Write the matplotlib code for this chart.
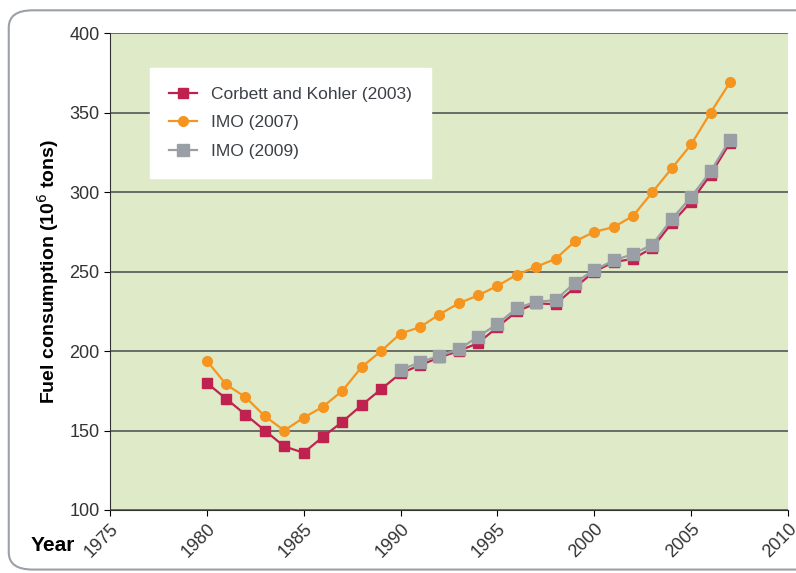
import matplotlib
matplotlib.use("Agg")
import matplotlib.pyplot as plt
from matplotlib.patches import FancyBboxPatch

years_ck = list(range(1980, 2008))
corbett = [180, 170, 160, 150, 140, 136, 146, 155.5, 166, 176,
           186, 191, 196, 200, 205, 215, 225, 230, 229.5, 240,
           250, 256, 258, 265, 280.5, 294, 311, 331]

years_imo07 = list(range(1980, 2008))
imo2007 = [194, 179, 171, 159, 150, 158, 165, 175, 190, 200,
           211, 215, 223, 230, 235, 241, 248, 253, 258, 269,
           275, 278, 285, 300, 315, 330, 350, 369]

years_imo09 = list(range(1990, 2008))
imo2009 = [188, 193, 197, 201, 209, 217, 227, 231, 232, 243,
           251, 257, 261, 267, 283, 297, 313, 333]

xticks = list(range(1975, 2011, 5))
yticks = list(range(100, 401, 50))

plt.rcParams['font.family'] = ['Liberation Sans', 'DejaVu Sans']

fig = plt.figure(figsize=(7.96, 5.73), dpi=100)
# rounded frame, runs off the right edge like the source
frame = FancyBboxPatch((0.011, 0.006), 1.02, 0.976, boxstyle="round,pad=0,rounding_size=0.03",
                       transform=fig.transFigure, facecolor='white', edgecolor='#9aa0a6',
                       linewidth=1.5, zorder=-10)
fig.patches.append(frame)

ax = fig.add_axes([0.138, 0.110, 0.852, 0.832])
ax.set_facecolor('#deeac8')

ax.plot(years_ck, corbett, color='#c0224f', marker='s', markersize=7, linewidth=1.6,
        label='Corbett and Kohler (2003)', zorder=3)
ax.plot(years_imo07, imo2007, color='#f5951f', marker='o', markersize=7, linewidth=1.6,
        label='IMO (2007)', zorder=3)
ax.plot(years_imo09, imo2009, color='#9a9fa5', marker='s', markersize=8, linewidth=1.6,
        label='IMO (2009)', zorder=4)

ax.set_xlim(1975, 2010)
ax.set_ylim(100, 400)
ax.set_xticks(xticks)
ax.set_yticks(yticks)
ax.set_xticklabels([str(x) for x in xticks], rotation=45, ha='right', rotation_mode='anchor',
                   fontsize=13, color='#333333')
ax.tick_params(axis='y', labelsize=13, labelcolor='#333333', length=4)
ax.tick_params(axis='x', length=4)
ax.grid(axis='y', color='#4a4a4a', linewidth=1.1)
ax.set_axisbelow(True)
for s in ['top', 'right']:
    ax.spines[s].set_visible(False)
ax.spines['left'].set_color('#333333')
ax.spines['bottom'].set_color('#333333')

ax.set_ylabel('Fuel consumption (10$^6$ tons)', fontsize=14, fontweight='bold', labelpad=6)
fig.text(0.038, 0.032, 'Year', fontsize=15, fontweight='bold', ha='left', va='bottom')

leg = ax.legend(loc='upper left', bbox_to_anchor=(0.059, 0.927), borderaxespad=0,
                frameon=True, fancybox=False, fontsize=12.5, handlelength=1.6,
                borderpad=1.1, labelspacing=0.75)
leg.get_frame().set_facecolor('white')
leg.get_frame().set_edgecolor('white')
leg.get_frame().set_alpha(1)
for t in leg.get_texts():
    t.set_color('#3c4046')

fig.savefig('out.png', dpi=100)
